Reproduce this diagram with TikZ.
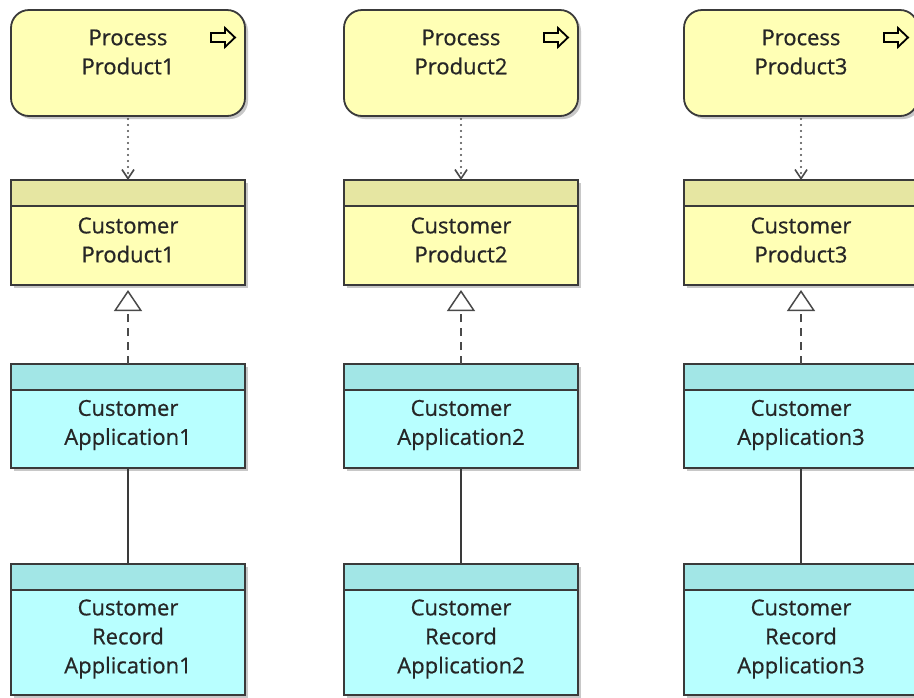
\documentclass[tikz,border=0pt]{standalone}
\usepackage{fontspec}
\setmainfont{Open Sans}[FakeBold=0.7]
\usetikzlibrary{arrows.meta,shadows,calc}

\definecolor{procfill}{HTML}{FFFFB5}
\definecolor{prodfill}{HTML}{FFFFB5}
\definecolor{prodhead}{HTML}{E6E6A2}
\definecolor{appfill}{HTML}{B8FFFF}
\definecolor{apphead}{HTML}{A2E6E6}
\definecolor{edge}{HTML}{3A3A3A}
\definecolor{ink}{HTML}{262626}
\definecolor{linkcol}{HTML}{4A4A4A}

\tikzset{
  boxshadow/.style={drop shadow={shadow xshift=3pt,shadow yshift=-3pt,opacity=0.3,fill=black!70}},
  procbox/.style={draw=edge, line width=1.8pt, fill=procfill, rounded corners=18pt,
    minimum width=234pt, minimum height=106pt, inner sep=0pt, outer sep=0pt,
    anchor=north, boxshadow},
  classbox/.style 2 args={draw=edge, line width=1.8pt, fill=#1,
    minimum width=234pt, inner sep=0pt, outer sep=0pt, anchor=north, boxshadow,
    path picture={\fill[#2] (path picture bounding box.north west)
      rectangle ([yshift=-26pt]path picture bounding box.north east);}},
  headline/.style={draw=edge, line width=1.8pt},
  label/.style={font=\fontsize{22}{29}\selectfont, align=center, text=ink, inner sep=0pt},
  flowlink/.style={draw=linkcol, line width=2.2pt, line cap=round,
    dash pattern=on 0pt off 6pt, shorten <=3pt,
    -{Straight Barb[length=9pt,width=12pt,line width=1.6pt,line cap=butt]}},
  realize/.style={draw=linkcol, line width=1.8pt, dash pattern=on 8pt off 6pt,
    shorten >=5pt, -{Triangle[open,length=21pt,width=28pt,line width=1.5pt,fill=white]}},
  assoc/.style={draw=edge, line width=1.8pt},
  arrowicon/.style={draw=black, line width=1.8pt, line join=miter, fill=none}
}

\begin{document}
\begin{tikzpicture}[x=1pt,y=-1pt]
  \useasboundingbox (0,0) rectangle (914,697);
  \clip (0,0) rectangle (914,697);
  \fill[white] (0,0) rectangle (914,697);

  \foreach \i/\cx in {1/128,2/461,3/801} {
    % process (business layer)
    \node[procbox] (p\i) at (\cx,10) {};
    \draw[arrowicon] ($(p\i.north east)+(-22,27.5)$)
      ++(-12,-4.5) -- ++(14,0) -- ++(0,-5) -- ++(10,9.5) -- ++(-10,9.5)
      -- ++(0,-5) -- ++(-14,0) -- cycle;
    \node[label] (pt\i) at (\cx,52) {Process\\Product\i};

    % product (business object)
    \node[classbox={prodfill}{prodhead}, minimum height=105pt] (cp\i) at (\cx,180) {};
    \draw[headline] ([yshift=-26pt]cp\i.north west) -- ([yshift=-26pt]cp\i.north east);
    \node[label] (cpt\i) at (\cx,240) {Customer\\Product\i};

    % application component
    \node[classbox={appfill}{apphead}, minimum height=104pt] (a\i) at (\cx,364) {};
    \draw[headline] ([yshift=-26pt]a\i.north west) -- ([yshift=-26pt]a\i.north east);
    \node[label] (at\i) at (\cx,425) {Customer\\Application\i};

    % record application
    \node[classbox={appfill}{apphead}, minimum height=131pt] (r\i) at (\cx,564) {};
    \draw[headline] ([yshift=-26pt]r\i.north west) -- ([yshift=-26pt]r\i.north east);
    \node[label] (rt\i) at (\cx,639) {Customer\\Record\\Application\i};

    % relations
    \draw[flowlink] (p\i.south) -- (cp\i.north);
    \draw[realize] (a\i.north) -- (cp\i.south);
    \draw[assoc] (a\i.south) -- (r\i.north);
  }
\end{tikzpicture}
\end{document}
